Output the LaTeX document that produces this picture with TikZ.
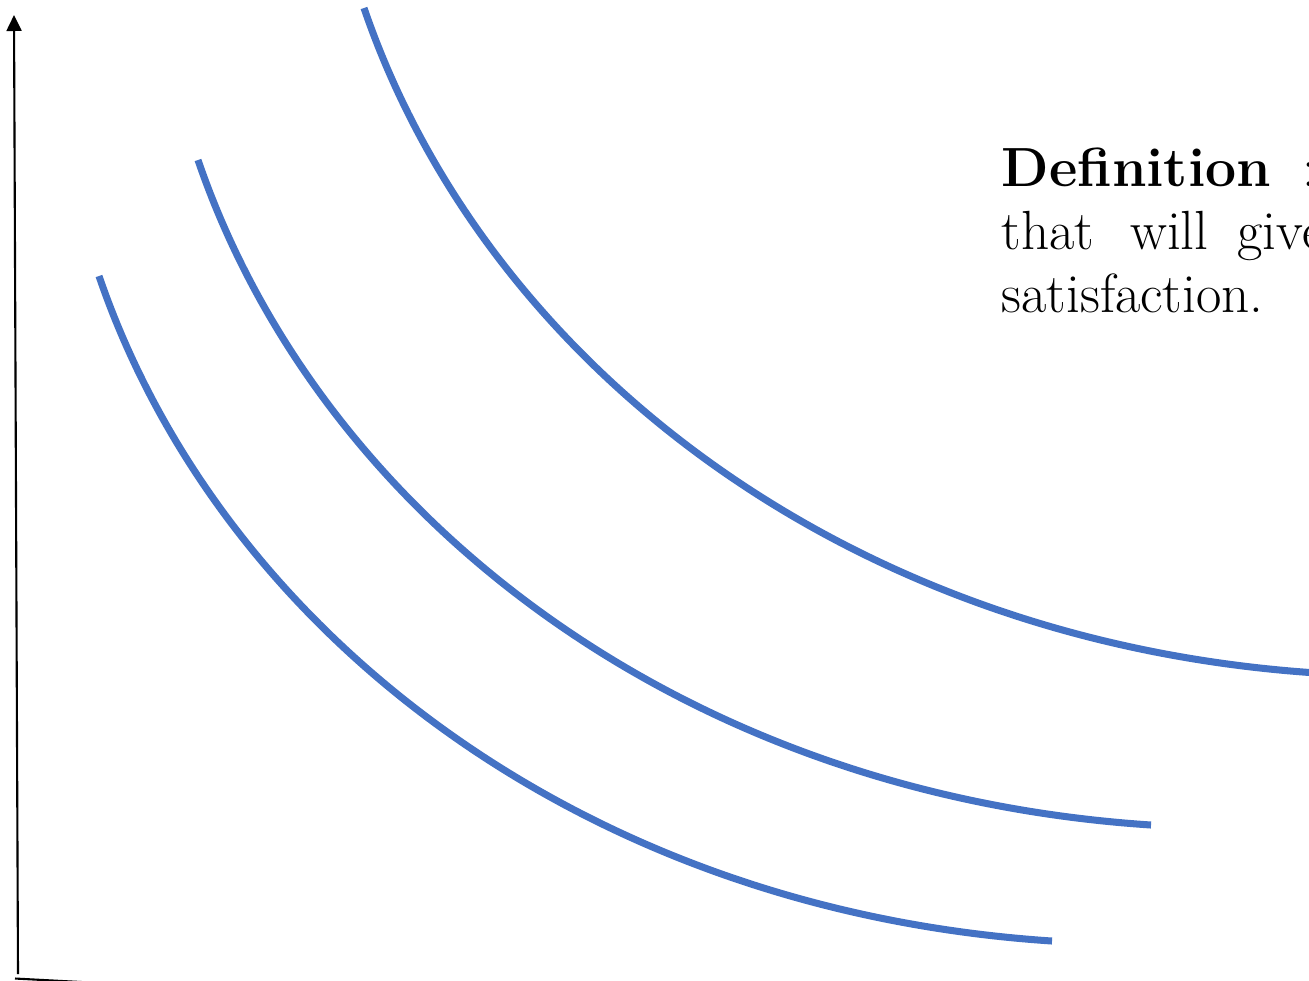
\documentclass[tikz,border=0pt]{standalone}
\usepackage{fontspec}
\usetikzlibrary{arrows.meta}

\definecolor{curveblue}{HTML}{4472C4}

\begin{document}
\begin{tikzpicture}[curve/.style={curveblue, line width=2pt}, axis/.style={black, line width=0.6pt}]
	\useasboundingbox (0,0) rectangle (13.09,9.80);
	\clip (0,0) rectangle (13.09,9.80);

	% Axes
	\coordinate (ybot) at (0.18,0.06);
	\coordinate (ytop) at (0.14,9.65);
	\coordinate (xbot) at (0.15,0.015);
	\coordinate (xend) at (1.0,-0.03);
	\draw[axis] [-{Triangle[length=1.6mm,width=1.5mm]}] (ybot) -- (ytop);
	\draw[axis] (xbot) -- (xend);

	% Curves
	\foreach \dx/\dy in {0/0, 0.99/1.16, 2.65/2.68}
		\draw[curve, shift={(\dx,\dy)}] (0.99,7.04) .. controls (2.20,3.50) and (5.80,0.70) .. (10.52,0.39);

	% Definition
	\node[anchor=base west, align=left, inner sep=0pt, font=\fontsize{15.7}{17.8}\selectfont] (defn) at (10.01,6.68)
		{\textbf{Definition}\hspace{0.32cm}:\\that\hspace{0.36cm}will\hspace{0.29cm}give\\satisfaction.};
\end{tikzpicture}
\end{document}
